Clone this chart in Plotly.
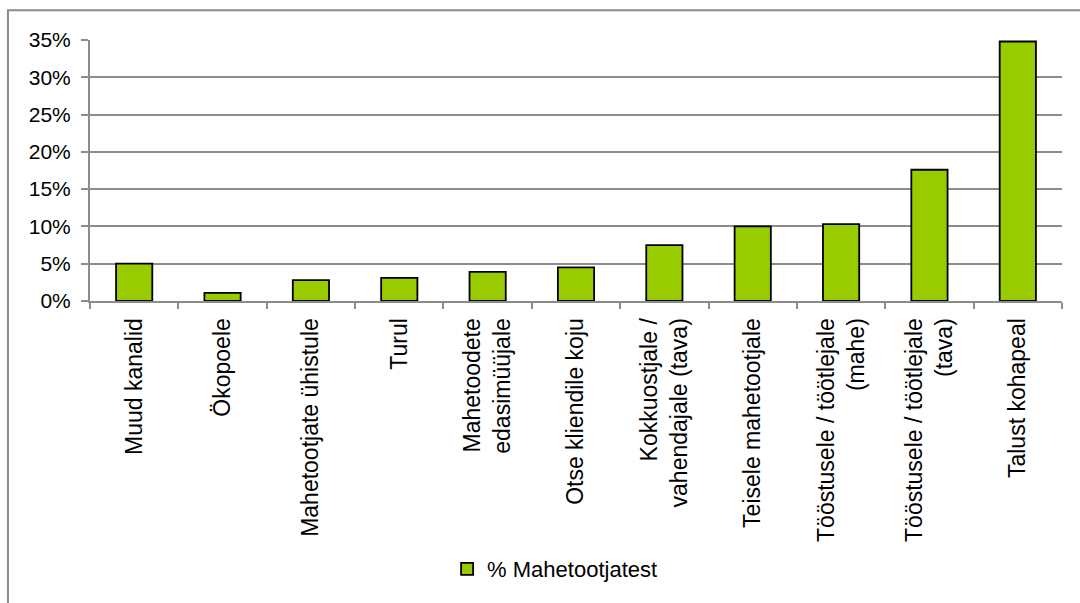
import plotly.graph_objects as go

categories = [
    "Muud kanalid",
    "Ökopoele",
    "Mahetootjate ühistule",
    "Turul",
    "Mahetoodete<br>edasimüüjale",
    "Otse kliendile koju",
    "Kokkuostjale /<br>vahendajale (tava)",
    "Teisele mahetootjale",
    "Tööstusele / töötlejale<br>(mahe)",
    "Tööstusele / töötlejale<br>(tava)",
    "Talust kohapeal",
]
values = [0.050, 0.011, 0.028, 0.031, 0.039, 0.045, 0.075, 0.100, 0.103, 0.176, 0.348]
series_name = "% Mahetootjatest"
y_ticks = [0, 0.05, 0.10, 0.15, 0.20, 0.25, 0.30, 0.35]

FONT = "Liberation Sans, Arial, sans-serif"
GRID = "#8c8c8c"

fig = go.Figure()
fig.add_trace(go.Bar(
    x=categories,
    y=values,
    name=series_name,
    marker=dict(color="#99cc00", line=dict(color="black", width=1.8)),
    showlegend=True,
))

fig.update_layout(
    width=1080,
    height=603,
    margin=dict(l=90, r=18, t=40, b=300),
    paper_bgcolor="white",
    plot_bgcolor="white",
    font=dict(family=FONT, color="black", size=21),
    bargap=0.59,
    showlegend=True,
    legend=dict(
        orientation="h",
        x=0.478, xanchor="center",
        y=-1.027, yanchor="middle",
        font=dict(size=22, family=FONT),
        itemwidth=30,
    ),
    xaxis=dict(
        tickangle=-90,
        tickfont=dict(size=23, family=FONT),
        showline=True, linecolor=GRID, linewidth=2,
        ticks="outside", tickson="boundaries", ticklen=6, tickcolor=GRID, tickwidth=1.5,
        showgrid=False,
        ticklabelstandoff=6,
    ),
    yaxis=dict(
        range=[0, 0.35],
        tickvals=y_ticks,
        tickformat=".0%",
        tickfont=dict(size=21, family=FONT),
        showline=True, linecolor=GRID, linewidth=2,
        ticks="outside", ticklen=7, tickcolor=GRID, tickwidth=1.5,
        showgrid=True, gridcolor=GRID, gridwidth=2,
        zeroline=False,
        ticklabelstandoff=6,
    ),
    shapes=[dict(
        type="rect", xref="paper", yref="paper",
        x0=-0.0844, x1=1.3, y0=-1.5, y1=1.114,
        line=dict(color=GRID, width=2), fillcolor="rgba(0,0,0,0)",
        layer="below",
    )],
)

fig.write_html(
    "out.html",
    config={"displayModeBar": False},
    post_script="document.body.style.margin='0';",
)
